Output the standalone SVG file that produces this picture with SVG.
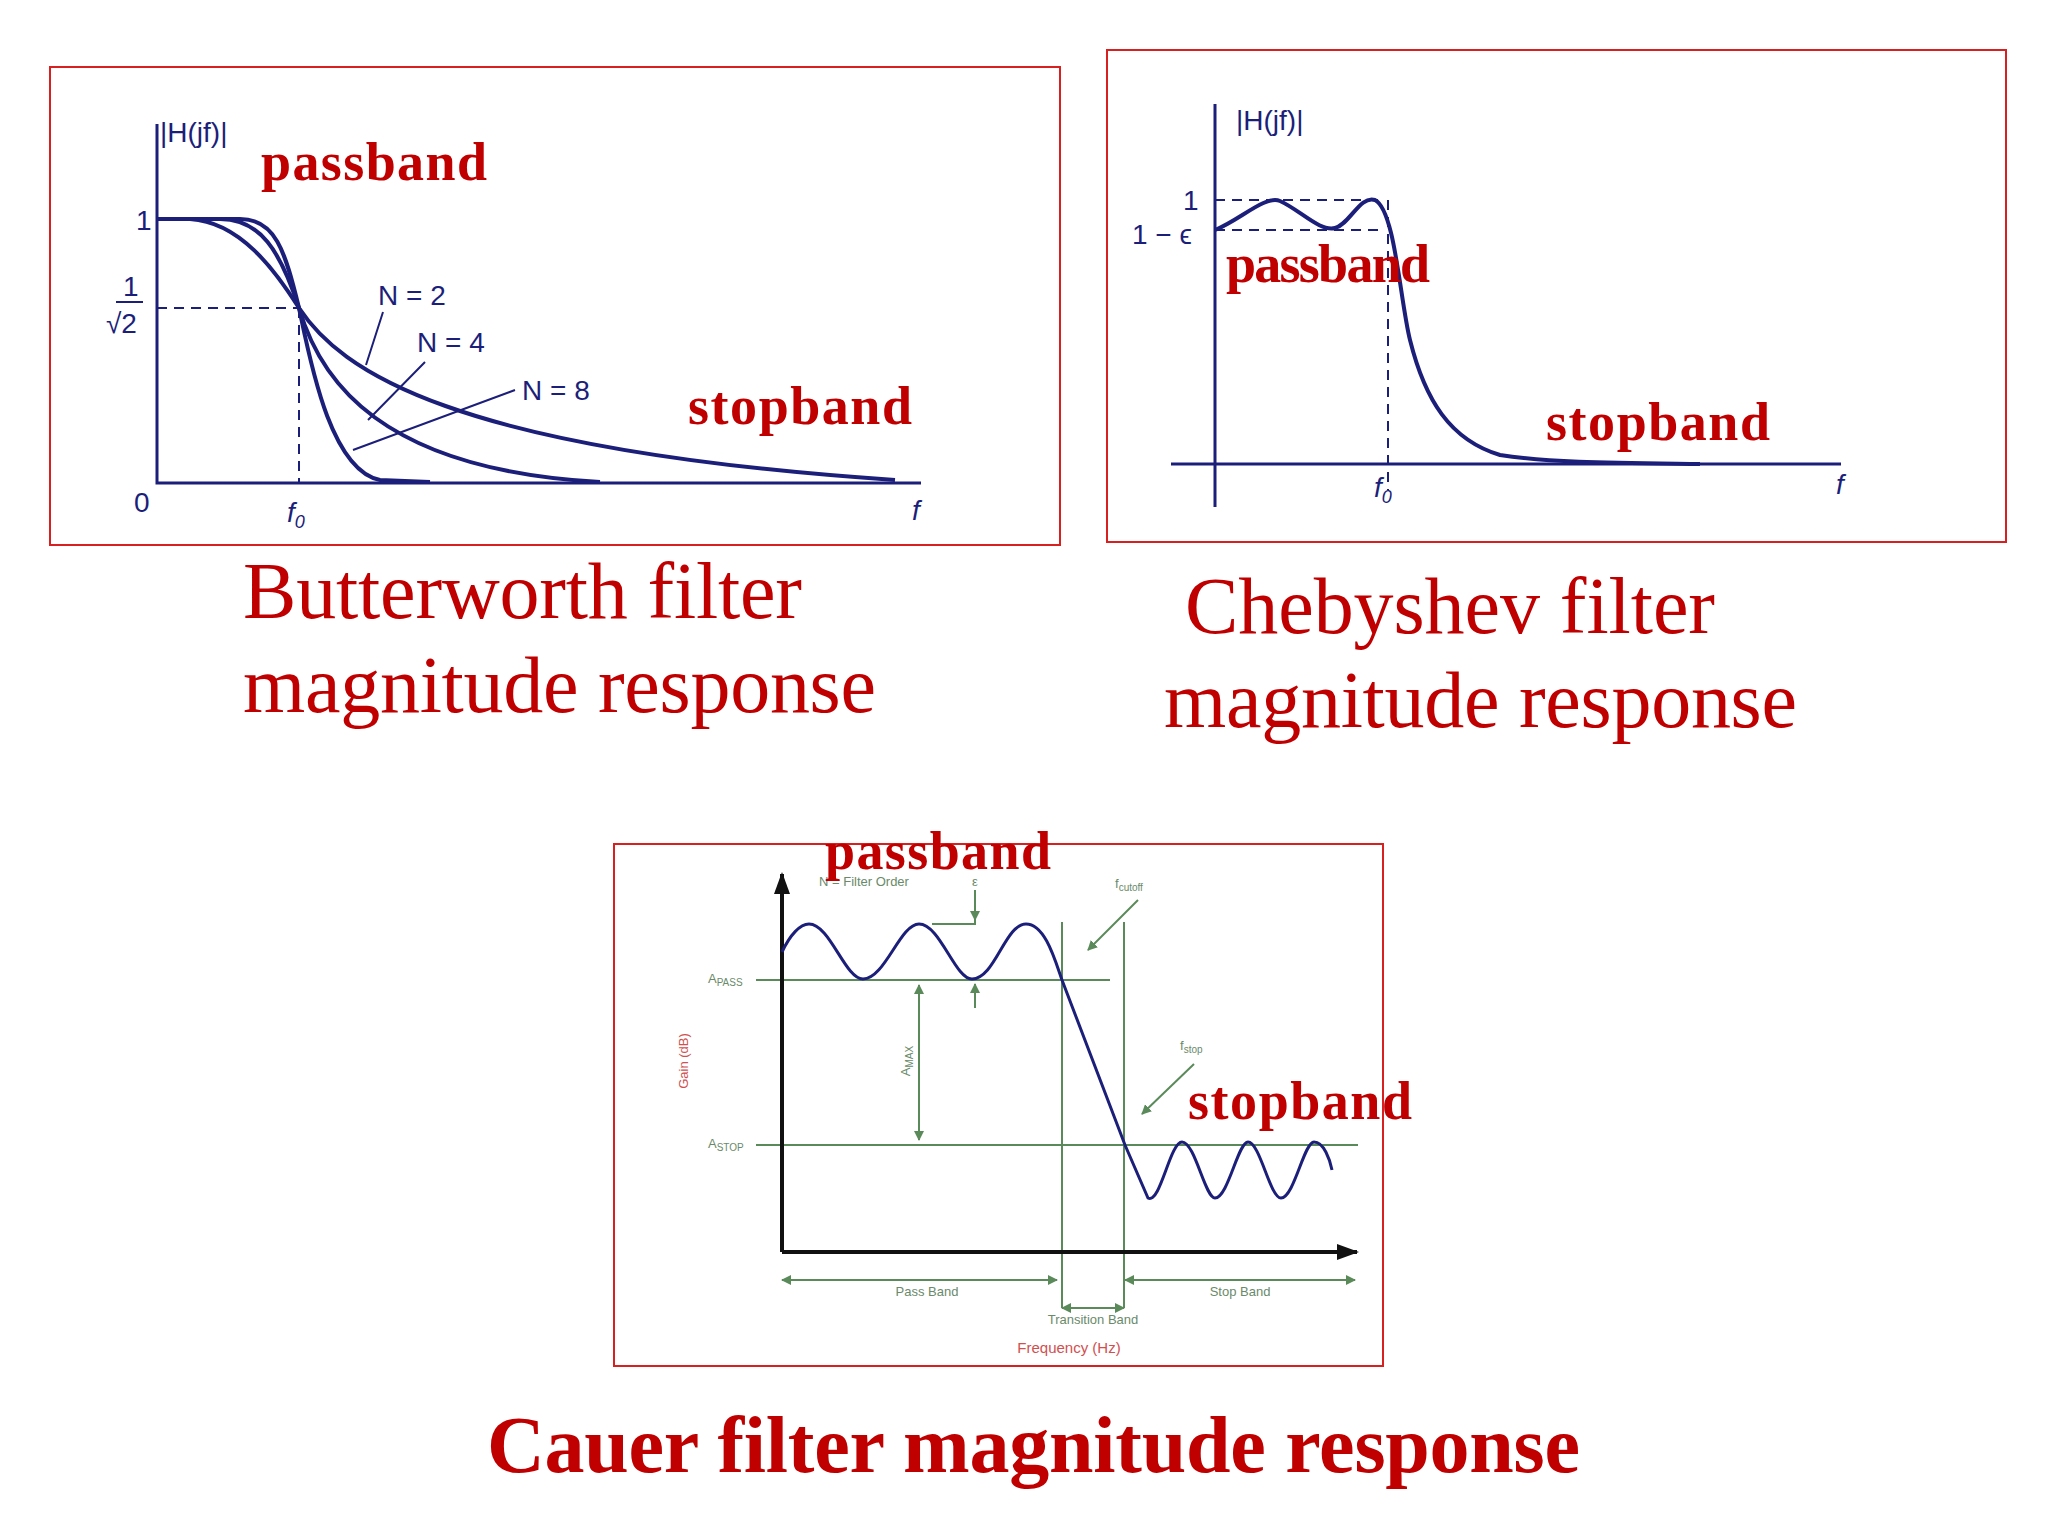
<svg xmlns="http://www.w3.org/2000/svg" width="2048" height="1536" viewBox="0 0 2048 1536">
<style>
.box{fill:none;stroke:#d92020;stroke-width:2}
.curve{fill:none;stroke:#1c1f7a;stroke-width:4}
.ax{fill:none;stroke:#1c1f7a;stroke-width:3}
.dash{fill:none;stroke:#1c1f7a;stroke-width:2;stroke-dasharray:10,7}
.lbl{font-family:"Liberation Sans",Arial,sans-serif;font-size:28px;fill:#1c1f7a}
.red{font-family:"Liberation Serif","Times New Roman",serif;font-weight:bold;font-size:54px;fill:#c00000}
.title{font-family:"Liberation Serif","Times New Roman",serif;font-size:80px;fill:#c00000}
.g{fill:none;stroke:#5a8a5a;stroke-width:2}
.k{fill:none;stroke:#111;stroke-width:4}
.sm{font-family:"Liberation Sans",Arial,sans-serif;font-size:13px;fill:#6a8a6a}
</style>
<defs>
<marker id="ah" markerWidth="10" markerHeight="10" refX="9" refY="5" orient="auto" markerUnits="userSpaceOnUse"><path d="M0,0 L10,5 L0,10 z" fill="#5a8a5a"/></marker>
<marker id="ak" markerWidth="22" markerHeight="16" refX="20" refY="8" orient="auto" markerUnits="userSpaceOnUse"><path d="M0,0 L22,8 L0,16 z" fill="#111"/></marker>
</defs>
<rect width="2048" height="1536" fill="#fff"/>

<g id="butterworth">
<rect class="box" x="50" y="67" width="1010" height="478"/>
<path class="ax" d="M157,124 V483 H921"/>
<path class="dash" d="M157,308 H299 M299,308 V483"/>
<path class="curve" d="M157,219 L240,219 C275,219 285,250 299,308 C310,360 330,470 380,480 L430,482"/>
<path class="curve" d="M157,219 L220,219 C260,219 280,250 299,308 C320,380 380,470 600,482"/>
<path class="curve" d="M157,219 L190,219 C240,222 275,270 299,308 C340,370 450,450 895,480"/>
<path class="ax" style="stroke-width:2" d="M383,312 L366,365 M425,362 L368,420 M515,390 L353,450"/>
<text class="lbl" x="160" y="142">|H(jf)|</text>
<text class="lbl" x="136" y="230">1</text>
<text class="lbl" x="123" y="296" font-size="24">1</text>
<path class="ax" style="stroke-width:2" d="M116,302 H143"/>
<text class="lbl" x="106" y="333" font-size="24">√2</text>
<text class="lbl" x="134" y="512">0</text>
<text class="lbl" x="287" y="522" font-style="italic">f<tspan font-size="18" dy="6">0</tspan></text>
<text class="lbl" x="912" y="520" font-style="italic">f</text>
<text class="lbl" x="378" y="305">N = 2</text>
<text class="lbl" x="417" y="352">N = 4</text>
<text class="lbl" x="522" y="400">N = 8</text>
<text class="red" x="261" y="180" textLength="226">passband</text>
<text class="red" x="688" y="424" textLength="224">stopband</text>
<text class="title" x="243" y="618" textLength="559">Butterworth filter</text>
<text class="title" x="243" y="712" textLength="633">magnitude response</text>
</g>

<g id="chebyshev">
<rect class="box" x="1107" y="50" width="899" height="492"/>
<path class="ax" d="M1215,104 V507 M1171,464 H1841"/>
<path class="dash" d="M1215,200 H1385 M1215,230 H1385 M1388,200 V490"/>
<path class="curve" d="M1215,230 C1240,220 1265,195 1280,201 C1300,210 1320,232 1335,228 C1350,224 1360,195 1375,200 C1395,210 1400,300 1410,340 C1425,400 1450,440 1500,455 C1550,463 1620,463 1700,464"/>
<text class="lbl" x="1236" y="130">|H(jf)|</text>
<text class="lbl" x="1183" y="210">1</text>
<text class="lbl" x="1132" y="244">1 − ϵ</text>
<text class="lbl" x="1374" y="497" font-style="italic">f<tspan font-size="18" dy="6">0</tspan></text>
<text class="lbl" x="1836" y="494" font-style="italic">f</text>
<text class="red" x="1226" y="282" textLength="204">passband</text>
<text class="red" x="1546" y="440" textLength="224">stopband</text>
<text class="title" x="1185" y="633" textLength="530">Chebyshev filter</text>
<text class="title" x="1164" y="727" textLength="633">magnitude response</text>
</g>

<g id="cauer">
<rect class="box" x="614" y="844" width="769" height="522"/>
<path class="g" d="M756,980 H1110 M756,1145 H1358 M1062,922 V1308 M1124,922 V1308"/>
<path class="g" d="M919,990 V1140" marker-end="url(#ah)"/>
<path class="g" d="M919,1135 V985" marker-end="url(#ah)"/>
<path class="g" d="M932,924 H975 V890 M975,890 V920" marker-end="url(#ah)"/>
<path class="g" d="M975,1008 V984" marker-end="url(#ah)"/>
<path class="g" d="M1138,900 L1088,950" marker-end="url(#ah)"/>
<path class="g" d="M1194,1064 L1142,1114" marker-end="url(#ah)"/>
<path class="g" d="M1057,1280 H782" marker-end="url(#ah)"/>
<path class="g" d="M782,1280 H1057" marker-end="url(#ah)"/>
<path class="g" d="M1355,1280 H1125" marker-end="url(#ah)"/>
<path class="g" d="M1125,1280 H1355" marker-end="url(#ah)"/>
<path class="g" d="M1062,1308 H1124" marker-end="url(#ah)"/>
<path class="g" d="M1124,1308 H1062" marker-end="url(#ah)"/>
<path class="k" d="M782,1252 V874" marker-end="url(#ak)"/>
<path class="k" d="M782,1252 H1357" marker-end="url(#ak)"/>
<path class="curve" style="stroke-width:3" d="M782,952 C790,935 800,924 809,924 C830,924 845,979 863,979 C885,979 900,924 919,924 C940,924 955,979 972,979 C995,979 1005,924 1026,924 C1045,924 1055,960 1062,980 L1125,1145 L1148,1198 C1160,1205 1170,1142 1182,1142 C1195,1142 1205,1198 1215,1198 C1228,1198 1238,1142 1248,1142 C1260,1142 1270,1198 1281,1198 C1294,1198 1304,1142 1314,1142 C1324,1142 1330,1160 1332,1170"/>
<text class="sm" x="819" y="886">N = Filter Order</text>
<text class="sm" x="972" y="886">ε</text>
<text class="sm" x="1115" y="888">f<tspan font-size="10" dy="3">cutoff</tspan></text>
<text class="sm" x="1180" y="1050">f<tspan font-size="10" dy="3">stop</tspan></text>
<text class="sm" x="708" y="983">A<tspan font-size="10" dy="3">PASS</tspan></text>
<text class="sm" x="708" y="1148">A<tspan font-size="10" dy="3">STOP</tspan></text>
<text class="sm" transform="translate(910,1061) rotate(-90)" text-anchor="middle">A<tspan font-size="10" dy="3">MAX</tspan></text>
<text class="sm" style="fill:#d05050" transform="translate(688,1061) rotate(-90)" text-anchor="middle">Gain (dB)</text>
<text class="sm" x="927" y="1296" text-anchor="middle">Pass Band</text>
<text class="sm" x="1240" y="1296" text-anchor="middle">Stop Band</text>
<text class="sm" x="1093" y="1324" text-anchor="middle">Transition Band</text>
<text class="sm" style="fill:#d05050;font-size:15px" x="1069" y="1353" text-anchor="middle">Frequency (Hz)</text>
<text class="red" x="825" y="869" textLength="226">passband</text>
<text class="red" x="1188" y="1119" textLength="224">stopband</text>
<text class="title" font-weight="bold" x="487" y="1472" textLength="1093">Cauer filter magnitude response</text>
</g>
</svg>
